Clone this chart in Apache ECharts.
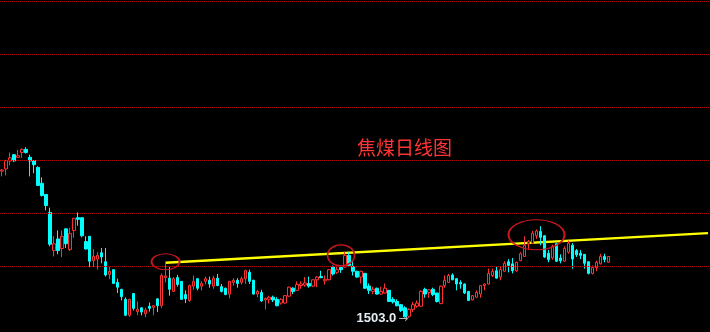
<!DOCTYPE html>
<html>
<head>
<meta charset="utf-8">
<script src="https://cdn.jsdelivr.net/npm/echarts@6/dist/echarts.min.js"></script>
<style>
html,body{margin:0;padding:0;background:#000;}
#chart{width:710px;height:332px;}
</style>
</head>
<body>
<div id="chart"></div>
<script>
// Daily OHLC for 焦煤 (coking coal)
const open = [1780,1784,1799,1811,1806,1815,1821,1806,1800,1787,1757,1736,1702,1630,1652,1634,1671,1632,1668,1692,
1692,1647,1657,1611,1614,1626,1609,1585,1594,1570,1557,1538,1508,1549,1515,1522,1511,1525,1523,1539,
1526,1579,1578,1553,1579,1572,1547,1536,1563,1577,1563,1572,1574,1563,1578,1562,1559,1548,1570,1574,
1570,1577,1589,1574,1548,1551,1537,1538,1542,1538,1531,1531,1544,1559,1555,1564,1565,1568,1563,1575,
1581,1573,1575,1599,1589,1598,1599,1621,1600,1591,1580,1587,1563,1553,1559,1548,1550,1555,1538,1534,
1528,1522,1506,1519,1525,1525,1557,1551,1557,1550,1530,1564,1570,1584,1577,1570,1567,1553,1537,1542,
1548,1564,1567,1583,1592,1580,1591,1609,1605,1592,1611,1619,1643,1644,1658,1666,1658,1625,1616,1643,
1616,1610,1627,1640,1630,1625,1623,1609,1587,1598,1605,1619,1608];
const close = [1782,1800,1805,1799,1809,1821,1815,1799,1792,1753,1734,1715,1642,1643,1630,1657,1643,1662,1691,1689,
1658,1633,1610,1619,1621,1618,1584,1591,1568,1561,1543,1508,1538,1521,1519,1514,1518,1521,1526,1526,
1583,1582,1557,1577,1566,1538,1539,1564,1572,1559,1568,1577,1567,1578,1564,1553,1547,1572,1574,1568,
1577,1592,1572,1548,1553,1535,1540,1542,1537,1526,1538,1545,1561,1553,1566,1567,1569,1563,1575,1580,
1579,1576,1594,1586,1594,1594,1621,1602,1591,1580,1591,1559,1555,1557,1548,1553,1559,1534,1533,1526,
1517,1505,1519,1528,1531,1553,1548,1556,1547,1534,1563,1574,1583,1575,1567,1567,1550,1536,1545,1551,
1564,1567,1587,1591,1578,1594,1606,1602,1592,1608,1624,1640,1647,1663,1667,1655,1618,1613,1638,1610,
1611,1634,1644,1614,1622,1621,1606,1587,1598,1608,1619,1613,1619];
const low = [1770,1772,1791,1798,1805,1805,1813,1770,1776,1752,1732,1706,1638,1619,1623,1618,1635,1629,1654,1677,
1655,1632,1599,1599,1594,1606,1581,1576,1567,1550,1536,1507,1505,1517,1508,1508,1504,1515,1508,1514,
1522,1570,1545,1552,1562,1537,1531,1533,1556,1555,1555,1566,1560,1558,1563,1551,1546,1540,1564,1560,
1566,1567,1567,1547,1542,1533,1519,1530,1533,1525,1528,1530,1543,1548,1554,1558,1562,1560,1561,1561,
1578,1566,1574,1583,1586,1588,1598,1601,1583,1579,1568,1558,1548,1548,1547,1547,1549,1533,1530,1525,
1514,1504,1503,1514,1522,1524,1541,1541,1544,1532,1529,1560,1569,1574,1555,1558,1548,1535,1536,1541,
1541,1555,1566,1580,1577,1574,1590,1589,1587,1590,1610,1618,1631,1643,1652,1640,1616,1608,1613,1609,
1606,1609,1624,1596,1618,1614,1596,1585,1585,1591,1604,1608,1607];
const high = [1784,1801,1815,1812,1820,1823,1825,1811,1801,1789,1768,1736,1711,1657,1668,1668,1672,1673,1691,1702,
1693,1657,1657,1633,1627,1635,1635,1599,1595,1577,1557,1542,1539,1549,1534,1523,1522,1532,1527,1540,
1587,1607,1599,1580,1584,1572,1555,1566,1583,1577,1572,1581,1581,1582,1586,1567,1560,1572,1578,1578,
1581,1594,1594,1575,1556,1556,1541,1545,1545,1542,1540,1546,1562,1561,1572,1572,1580,1581,1576,1582,
1592,1583,1595,1602,1599,1602,1628,1627,1611,1592,1592,1588,1568,1562,1560,1562,1568,1556,1542,1538,
1529,1525,1521,1533,1536,1555,1560,1557,1560,1550,1564,1583,1586,1587,1578,1574,1568,1554,1546,1555,
1565,1568,1596,1596,1599,1599,1610,1614,1616,1609,1627,1657,1650,1667,1670,1676,1659,1631,1641,1644,
1623,1638,1649,1644,1633,1631,1623,1610,1602,1611,1624,1624,1619];

// Axis slots: trading days plus empty space to the right edge
const slotCount = 178;
const categories = [];
for (let i = 0; i < slotCount; i++) categories.push(String(i + 1));

// Y axis range and the dotted price levels
const yMin = 1500, yMax = 2100, yStep = 100;
const gridLevels = [1600, 1700, 1800, 1900, 2000, 2100];

// Trend line (neckline) end points: [category index, price]
const trendX = [41, 177];
const trendY = [1607, 1663];

// Marked zones (ellipses): [category index, price]
const zoneX = [41, 85, 134];
const zoneY = [1609, 1621, 1660];

// Lowest price label
const lowIndex = 102, lowPrice = 1503.0;

const title = '焦煤日线图';

const ohlc = open.map((o, i) => [o, close[i], low[i], high[i]]);
const trendData = trendX.map((x, i) => [x, trendY[i]]);
const zoneSizes = [[28, 16], [27, 21], [56, 30]];
const ellipse = 'path://M0 50A50 50 0 1 1 100 50A50 50 0 1 1 0 50Z';

const chart = echarts.init(document.getElementById('chart'));
chart.setOption({
  backgroundColor: '#000000',
  animation: false,
  title: {
    text: title, left: 357, top: 138, padding: 0,
    textStyle: { color: '#ff3434', fontSize: 19, fontWeight: 'normal', fontFamily: 'Noto Sans CJK SC' }
  },
  grid: { left: -1, right: -1, top: 1.5, bottom: 12.5 },
  xAxis: {
    type: 'category', data: categories, boundaryGap: true,
    axisLine: { show: false }, axisTick: { show: false }, axisLabel: { show: false }, splitLine: { show: false }
  },
  yAxis: {
    type: 'value', min: yMin, max: yMax, interval: yStep,
    axisLine: { show: false }, axisTick: { show: false }, axisLabel: { show: false },
    splitLine: { show: false }
  },
  series: [
    {
      type: 'line', data: trendData, symbol: 'none', z: 1,
      lineStyle: { color: '#ffff00', width: 2.4 },
      markLine: {
        silent: true, symbol: ['none', 'none'], animation: false,
        label: { show: false },
        lineStyle: { color: '#b00000', type: [1, 1], width: 1 },
        emphasis: { disabled: true },
        data: gridLevels.map(v => ({ yAxis: v }))
      },
      markPoint: {
        silent: true,
        data: zoneX.map((x, i) => ({
          coord: [x, zoneY[i]], symbol: ellipse, symbolSize: zoneSizes[i], symbolKeepAspect: false,
          itemStyle: { color: 'rgba(0,0,0,0)', borderColor: '#c8161e', borderWidth: 1.5 },
          label: { show: false }
        }))
      }
    },
    {
      type: 'candlestick', data: ohlc, barWidth: 3, z: 2,
      itemStyle: {
        color: '#000000', color0: '#00ffff',
        borderColor: '#ff3232', borderColor0: '#00ffff', borderColorDoji: '#ff3232', borderWidth: 1
      },
      markPoint: {
        silent: true,
        data: [{
          coord: [lowIndex, lowPrice], symbol: 'circle', symbolSize: 1,
          itemStyle: { color: 'rgba(0,0,0,0)' },
          label: {
            show: true, position: 'left', distance: 0, offset: [0, 1],
            formatter: '{a|' + lowPrice.toFixed(1) + '}{b|→}',
            rich: {
              a: { color: '#e6edf4', fontSize: 13, fontWeight: 'bold', fontFamily: 'Liberation Sans' },
              b: { color: '#b4b4b4', fontSize: 12, fontFamily: 'DejaVu Sans', padding: [0, 0, 0, 2] }
            }
          }
        }]
      }
    }
  ]
});
</script>
</body>
</html>
